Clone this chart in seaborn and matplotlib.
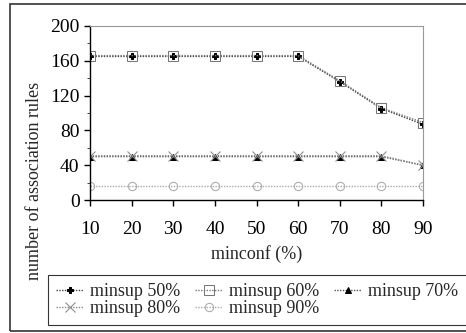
import pandas as pd
import numpy as np
import seaborn as sns
import matplotlib.pyplot as plt
from matplotlib.patches import Rectangle

minconf = [10, 20, 30, 40, 50, 60, 70, 80, 90]
minsup_50 = [165, 165, 165, 165, 165, 165, 136, 105, 87]
minsup_60 = [166, 166, 166, 166, 166, 166, 137, 106, 89]
minsup_70 = [50, 50, 50, 50, 50, 50, 50, 50, 40]
minsup_80 = [51, 51, 51, 51, 51, 51, 51, 51, 40]
minsup_90 = [16, 16, 16, 16, 16, 16, 16, 16, 16]

sns.set_style("ticks")
plt.rcParams['font.family'] = ['Liberation Serif', 'DejaVu Serif']

fig = plt.figure(figsize=(4.66, 3.33), dpi=100)
ax = fig.add_axes([0.193, 0.399, 0.715, 0.523])

# series style: marker, facecolor, line color, marker size
series = [
    ('minsup 50%', minsup_50, 'P', 'black', '#444444', 5),
    ('minsup 60%', minsup_60, 's', 'none', '#777777', 7),
    ('minsup 70%', minsup_70, '^', 'black', '#555555', 5),
    ('minsup 80%', minsup_80, 'x', 'none', '#888888', 7),
    ('minsup 90%', minsup_90, 'o', 'none', '#aaaaaa', 6),
]

for name, vals, mk, fc, col, ms in series:
    df = pd.DataFrame({'minconf': minconf, 'rules': vals})
    sns.lineplot(data=df, x='minconf', y='rules', ax=ax, color=col,
                 marker=mk, markersize=ms, markerfacecolor=fc,
                 markeredgecolor=col if fc == 'none' else 'black',
                 linestyle=(0, (1, 1)), linewidth=1.0, label=name)

h, l = ax.get_legend_handles_labels()
ax.get_legend().remove()
order = [0, 3, 1, 4, 2]
leg = fig.legend([h[i] for i in order], [l[i] for i in order], ncol=3,
                 loc='upper left', bbox_to_anchor=(0.103, 0.174),
                 fontsize=13, frameon=True, fancybox=False,
                 edgecolor='black', borderaxespad=0, handlelength=1.5,
                 handletextpad=0.4, columnspacing=0.8, labelspacing=0.0,
                 borderpad=0.45)
leg.get_frame().set_linewidth(0.8)

ax.set_xlim(10, 90)
ax.set_ylim(0, 200)
ax.set_xticks(minconf)
ax.set_yticks([0, 40, 80, 120, 160, 200])
ax.set_yticks(np.arange(0, 201, 20), minor=True)
ax.tick_params(axis='both', labelsize=14, direction='out', length=4, width=1, colors='black')
ax.tick_params(axis='y', which='minor', length=2)
ax.tick_params(axis='x', pad=11)
ax.set_xlabel('minconf (%)', fontsize=13, labelpad=5)
ax.set_ylabel('number of association rules', fontsize=13)
ax.yaxis.set_label_coords(-0.14, 0.11)

for s in ['top', 'right']:
    ax.spines[s].set_linestyle((0, (1, 1)))
    ax.spines[s].set_color('#999999')
    ax.spines[s].set_linewidth(0.8)
for s in ['left', 'bottom']:
    ax.spines[s].set_color('black')
    ax.spines[s].set_linewidth(1.0)

fig.patches.append(Rectangle((0.022, 0.006), 1.0, 0.982, transform=fig.transFigure,
                             fill=False, edgecolor='#333333', linewidth=1.2))

fig.savefig('out.png', dpi=100)
